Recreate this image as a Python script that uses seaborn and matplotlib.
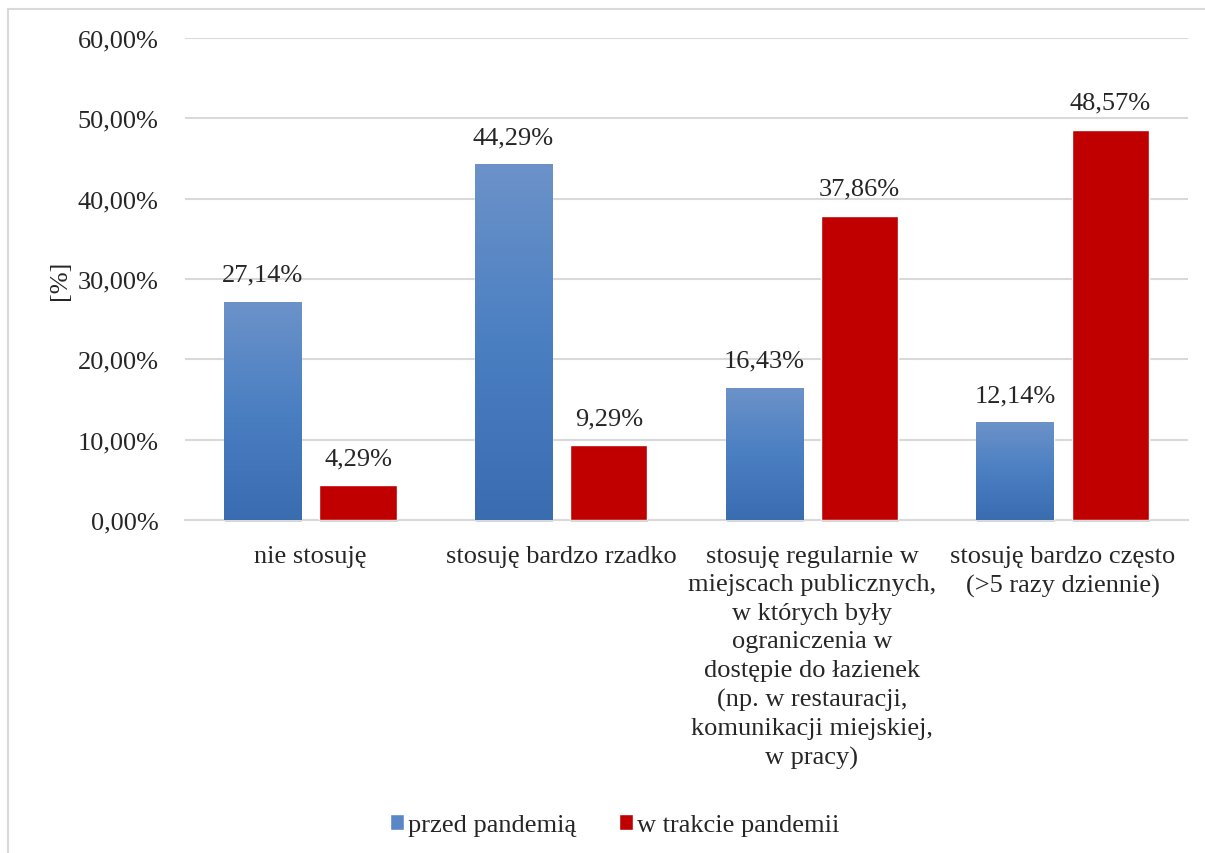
import numpy as np
import pandas as pd
import matplotlib
matplotlib.use("Agg")
import matplotlib.pyplot as plt
from matplotlib.colors import LinearSegmentedColormap
from matplotlib.patches import Rectangle
import seaborn as sns

categories = [
    "nie stosuję",
    "stosuję bardzo rzadko",
    "stosuję regularnie w miejscach publicznych, w których były ograniczenia w dostępie do łazienek (np. w restauracji, komunikacji miejskiej, w pracy)",
    "stosuję bardzo często (>5 razy dziennie)",
]
tick_labels = [
    "nie stosuję",
    "stosuję bardzo rzadko",
    "stosuję regularnie w\nmiejscach publicznych,\nw których były\nograniczenia w\ndostępie do łazienek\n(np. w restauracji,\nkomunikacji miejskiej,\nw pracy)",
    "stosuję bardzo często\n(>5 razy dziennie)",
]
series = ["przed pandemią", "w trakcie pandemii"]
before = [27.14, 44.29, 16.43, 12.14]
during = [4.29, 9.29, 37.86, 48.57]

df = pd.DataFrame({
    "kategoria": categories * 2,
    "okres": [series[0]] * 4 + [series[1]] * 4,
    "wartosc": before + during,
})

sns.set_style("white")
plt.rcParams["font.family"] = ["Liberation Serif", "DejaVu Serif"]
FS = 19

fig = plt.figure(figsize=(12.05, 8.54), dpi=100)
ax = fig.add_axes([0.1535, 0.390, 0.8325, 0.5643])

blue = "#4f81bd"
red = "#c00000"
sns.barplot(data=df, x="kategoria", y="wartosc", hue="okres",
            palette=[blue, red], saturation=1, width=0.76, gap=0.19, ax=ax,
            legend=False, zorder=3)

ax.set_ylim(0, 60)
ax.set_yticks(np.arange(0, 61, 10))
ax.set_yticklabels([f"{v:.2f}%".replace(".", ",") for v in np.arange(0, 61, 10)],
                   fontsize=FS)
ax.set_xticks(range(len(categories)))
ax.set_xticklabels(tick_labels, fontsize=FS, linespacing=1.38, va="top")
ax.tick_params(axis="both", length=0)
ax.tick_params(axis="y", pad=19)
ax.tick_params(axis="x", pad=18)
ax.set_xlabel("")
ax.set_ylabel("[%]", fontsize=FS)
ax.yaxis.set_label_coords(-0.114, 0.50)

ax.grid(axis="y", color="#d9d9d9", linewidth=1.5, zorder=0)
for s in ["top", "right", "left"]:
    ax.spines[s].set_visible(False)
ax.spines["bottom"].set_color("#d9d9d9")
ax.spines["bottom"].set_linewidth(1.5)

# vertical gradient on the blue bars, plus soft drop shadow under all bars
grad = LinearSegmentedColormap.from_list("g", ["#3a6cb0", "#4a7fc2", "#6c92c9"])
nbars = len(categories)
for i, patch in enumerate(ax.patches[: 2 * nbars]):
    x0, y0 = patch.get_x(), patch.get_y()
    w, h = patch.get_width(), patch.get_height()
    shadow = Rectangle((x0 + 0.004, -0.3), w, 0.35, facecolor="#8c8c8c",
                       alpha=0.35, edgecolor="none", zorder=2.5,
                       clip_on=False)
    ax.add_patch(shadow)
    if i < nbars:
        img = ax.imshow(np.linspace(0, 1, 256).reshape(-1, 1), cmap=grad,
                        extent=[x0, x0 + w, y0, y0 + h], origin="lower",
                        aspect="auto", zorder=3.5)
        img.set_clip_path(patch)
    val = h
    ax.text(x0 + w / 2, val + 2.0, f"{val:.2f}%".replace(".", ","),
            ha="center", va="bottom", fontsize=FS, zorder=5)

ax.set_xlim(-0.5, nbars - 0.5)

handles = [Rectangle((0, 0), 1, 1, facecolor="#5a88c6"),
           Rectangle((0, 0), 1, 1, facecolor=red)]
fig.legend(handles, series, loc="center", bbox_to_anchor=(0.51, 0.033),
           ncol=2, frameon=False, fontsize=FS, handlelength=0.55,
           handleheight=0.55, handletextpad=0.15, columnspacing=1.6)

# outer chart border
fig.patches.append(Rectangle((8 / 1205, -0.1), 1.2, 1 - 10 / 854 + 0.1,
                             transform=fig.transFigure, fill=False,
                             edgecolor="#d9d9d9", linewidth=1.5))

fig.savefig("out.png", dpi=100, facecolor="white")
